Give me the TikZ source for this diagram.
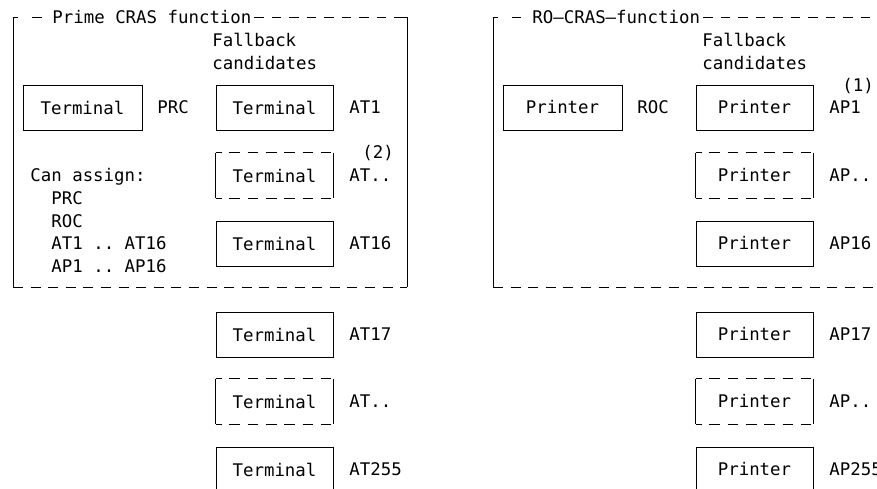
\documentclass[tikz,border=0pt]{standalone}
\usepackage{fontspec}
\setmonofont{DejaVu Sans Mono}
\begin{document}
\begin{tikzpicture}[x=1pt,y=-1pt,line width=0.8pt,
  txt/.style={font=\fontsize{17.4}{20}\selectfont\ttfamily,inner sep=0pt,anchor=base west},
  boxtxt/.style={font=\fontsize{17.4}{20}\selectfont\ttfamily,inner sep=0pt,minimum height=45pt},
  sbox/.style={boxtxt,draw,minimum width=117pt},
  wbox/.style={boxtxt,draw,minimum width=119pt},
  dbox/.style={boxtxt,minimum width=117pt},
  fdash/.style={dash pattern=on 9.5pt off 8pt},
  bdash/.style={dash pattern=on 10pt off 7.6pt},
  edash/.style={dash pattern=on 10.5pt off 7.8pt,dash phase=4.5pt}]
\clip (0,0) rectangle (877,489);
\fill[white] (0,0) rectangle (877,489);

% ---------- left frame ----------
\coordinate (LTL) at (13,17);
\coordinate (LTR) at (407,17);
\coordinate (LBL) at (13,287);
\coordinate (LBR) at (407,287);
\draw (LBL) -- (LTL) -- ++(5,0);
\draw (32,17) -- (42,17);
\node[txt] (ltitle) at (52,23.5) {Prime CRAS function};
\draw[fdash] (254,17) -- (403,17);
\draw (400,17) -- (LTR) -- (LBR);
\draw[bdash] (LBL) -- (LBR);

\node[txt] (lfb1) at (212,47) {Fallback};
\node[txt] (lfb2) at (212,70) {candidates};

\node[wbox] (prc) at (82.5,107.5) {Terminal};
\node[txt] (prcl) at (157,113.5) {PRC};

\node[sbox] (at1) at (274.5,107.5) {Terminal};
\node[txt] (at1l) at (349,113.5) {AT1};

\node[dbox] (atd) at (274.5,175.5) {Terminal};
\draw (atd.north west) -- (atd.south west) (atd.north east) -- (atd.south east);
\draw[edash] (atd.north west) -- (atd.north east);
\draw[edash] (atd.south west) -- (atd.south east);
\node[txt] (atdl) at (349,181.5) {AT..};
\node[txt] (n2) at (362,159) {(2)};

\node[sbox] (at16) at (274.5,243.5) {Terminal};
\node[txt] (at16l) at (349,249.5) {AT16};

\node[txt] (ca0) at (30,182) {Can assign:};
\node[txt] (ca1) at (51,204.5) {PRC};
\node[txt] (ca2) at (51,227) {ROC};
\node[txt] (ca3) at (51,249.5) {AT1 .. AT16};
\node[txt] (ca4) at (51,272) {AP1 .. AP16};

\node[sbox] (at17) at (274.5,334.5) {Terminal};
\node[txt] (at17l) at (349,340.5) {AT17};

\node[dbox] (atd2) at (274.5,401.5) {Terminal};
\draw (atd2.north west) -- (atd2.south west) (atd2.north east) -- (atd2.south east);
\draw[edash] (atd2.north west) -- (atd2.north east);
\draw[edash] (atd2.south west) -- (atd2.south east);
\node[txt] (atd2l) at (349,407.5) {AT..};

\node[sbox] (at255) at (274.5,469.5) {Terminal};
\node[txt] (at255l) at (349,475.5) {AT255};

% ---------- right frame ----------
\coordinate (RTL) at (493,17);
\coordinate (RBL) at (493,287);
\coordinate (RTR) at (880,17);
\coordinate (RBR) at (880,287);
\draw (RBL) -- (RTL) -- ++(5,0);
\draw (512,17) -- (521,17);
\node[txt] (rtitle) at (532,23.5) {RO—CRAS—function};
\draw[fdash] (703,17) -- (RTR);
\draw[bdash] (RBL) -- (RBR);

\node[txt] (rfb1) at (702,47) {Fallback};
\node[txt] (rfb2) at (702,70) {candidates};

\node[wbox] (roc) at (562.5,107.5) {Printer};
\node[txt] (rocl) at (637,113.5) {ROC};

\node[sbox] (ap1) at (754.5,107.5) {Printer};
\node[txt] (ap1l) at (829,113.5) {AP1};
\node[txt] (n1) at (842,92) {(1)};

\node[dbox] (apd) at (754.5,175.5) {Printer};
\draw (apd.north west) -- (apd.south west) (apd.north east) -- (apd.south east);
\draw[edash] (apd.north west) -- (apd.north east);
\draw[edash] (apd.south west) -- (apd.south east);
\node[txt] (apdl) at (829,181.5) {AP..};

\node[sbox] (ap16) at (754.5,243.5) {Printer};
\node[txt] (ap16l) at (829,249.5) {AP16};

\node[sbox] (ap17) at (754.5,334.5) {Printer};
\node[txt] (ap17l) at (829,340.5) {AP17};

\node[dbox] (apd2) at (754.5,401.5) {Printer};
\draw (apd2.north west) -- (apd2.south west) (apd2.north east) -- (apd2.south east);
\draw[edash] (apd2.north west) -- (apd2.north east);
\draw[edash] (apd2.south west) -- (apd2.south east);
\node[txt] (apd2l) at (829,407.5) {AP..};

\node[sbox] (ap255) at (754.5,469.5) {Printer};
\node[txt] (ap255l) at (829,475.5) {AP255};
\end{tikzpicture}
\end{document}
